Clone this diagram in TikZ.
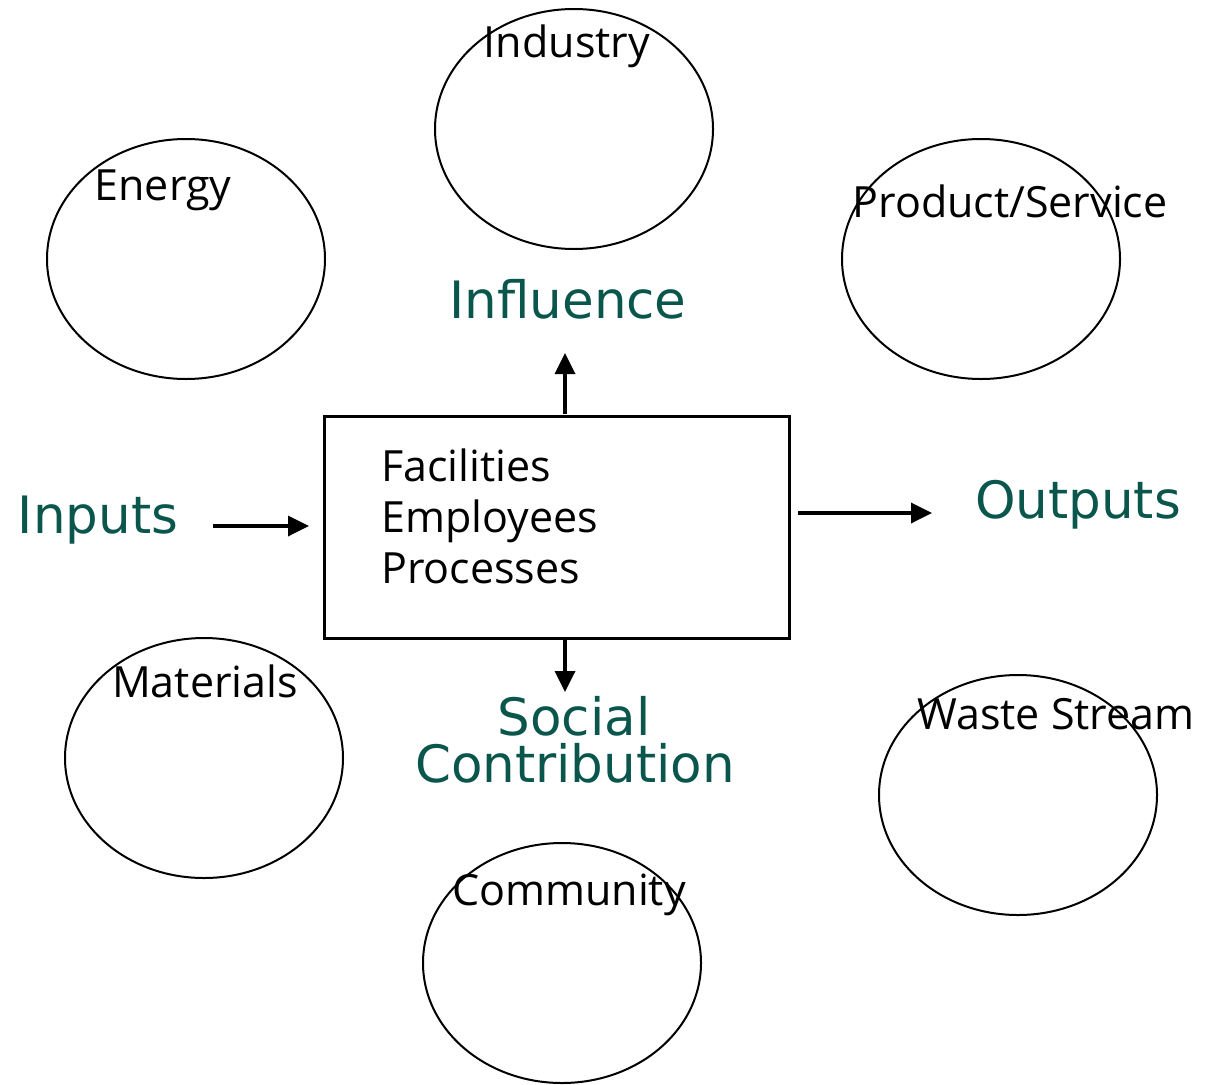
\documentclass[tikz,border=0pt]{standalone}
\usepackage{fontspec}
\setmainfont{Open Sans}
\newfontfamily\tealfont{DejaVu Sans}
\usetikzlibrary{shapes.geometric,arrows.meta}
\definecolor{tealtxt}{RGB}{10,86,76}
\tikzset{
  oval/.style={draw, ellipse, line width=2pt, minimum width=278pt, minimum height=240pt, inner sep=0pt},
  blacklbl/.style={anchor=base, inner sep=0pt, font=\fontsize{43}{50}\selectfont},
  boxlbl/.style={anchor=base west, inner sep=0pt, font=\fontsize{43}{50}\selectfont},
  teallbl/.style={anchor=base, inner sep=0pt, text=tealtxt, font=\tealfont\fontsize{51.5}{60}\selectfont},
  conn/.style={line width=3.5pt, -{Triangle[length=21pt,width=20pt]}}
}
\begin{document}
\begin{tikzpicture}[x=1pt,y=-1pt]
\useasboundingbox (0,0) rectangle (1214,1084);
% ellipses
\node[oval] (ind) at (574,129) {};
\node[oval] (ene) at (186,259) {};
\node[oval] (prd) at (981,259) {};
\node[oval] (mat) at (204,758) {};
\node[oval] (wst) at (1018,795) {};
\node[oval] (com) at (562,963) {};
% ellipse labels
\node[blacklbl] (lind) at (567,57) {Industry};
\node[blacklbl] (lene) at (163,200) {Energy};
\node[blacklbl] (lprd) at (1010,217) {Product/Service};
\node[blacklbl] (lmat) at (205,697) {Materials};
\node[blacklbl] (lwst) at (1056,729) {Waste Stream};
\node[blacklbl] (lcom) at (569,905) {Community};
% central box
\node[draw, line width=3.5pt, minimum width=465pt, minimum height=222pt, inner sep=0pt] (box) at (557,527.5) {};
\node[boxlbl] (fac) at (381,481) {Facilities};
\node[boxlbl] (emp) at (381,532) {Employees};
\node[boxlbl] (pro) at (381,583) {Processes};
% teal labels
\node[teallbl] (infl) at (568,318) {Influence};
\node[teallbl] (inp) at (98,533) {Inputs};
\node[teallbl] (outp) at (1078,518) {Outputs};
\node[teallbl] (soc) at (574,735) {Social};
\node[teallbl] (contr) at (575,782) {Contribution};
% connector coordinates
\coordinate (upS) at (565,414);
\coordinate (upE) at (565,353);
\coordinate (dnS) at (565,637);
\coordinate (dnE) at (565,692);
\coordinate (inS) at (213,526);
\coordinate (inE) at (309,526);
\coordinate (outS) at (798,513);
\coordinate (outE) at (932,513);
\draw[conn] (upS) -- (upE);
\draw[conn] (dnS) -- (dnE);
\draw[conn] (inS) -- (inE);
\draw[conn] (outS) -- (outE);
\end{tikzpicture}
\end{document}
